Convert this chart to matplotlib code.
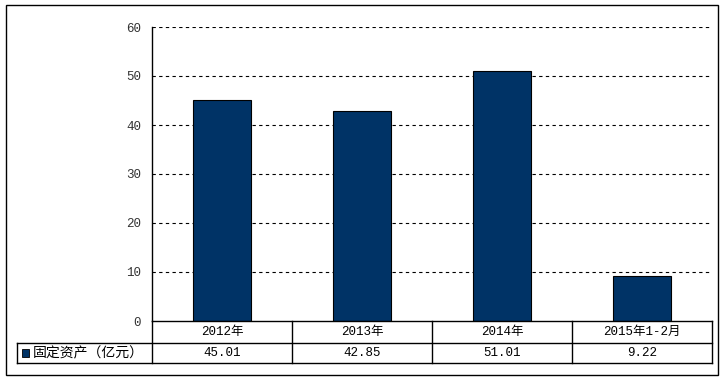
import matplotlib.pyplot as plt
from matplotlib.lines import Line2D
from matplotlib.patches import Rectangle

plt.rcParams['font.family'] = ['Liberation Mono', 'Noto Sans CJK SC', 'DejaVu Sans']

categories = ['2012年', '2013年', '2014年', '2015年1-2月']
values = [45.01, 42.85, 51.01, 9.22]
value_labels = ['45.01', '42.85', '51.01', '9.22']
series_name = '固定资产（亿元）'
yticks = [0, 10, 20, 30, 40, 50, 60]

W, H = 728, 381
bar_color = '#003366'

fig = plt.figure(figsize=(W / 100, H / 100), dpi=100)


def fx(px):
    return px / W


def fy(py):
    return 1 - py / H


def hline(y, x0, x1, lw=1.0):
    fig.add_artist(Line2D([fx(x0), fx(x1)], [fy(y), fy(y)], color='black', lw=lw,
                          transform=fig.transFigure))


def vline(x, y0, y1, lw=1.0):
    fig.add_artist(Line2D([fx(x), fx(x)], [fy(y0), fy(y1)], color='black', lw=lw,
                          transform=fig.transFigure))


# outer frame
fig.add_artist(Rectangle((fx(6), fy(375)), fx(718) - fx(6), fy(5) - fy(375),
                         fill=False, edgecolor='black', lw=1.0, transform=fig.transFigure))

# plot area
left, right, top, bottom = 152, 712, 27, 321
ax = fig.add_axes([fx(left), fy(bottom), fx(right) - fx(left), fy(top) - fy(bottom)])
x = range(len(categories))
ax.bar(x, values, width=0.41, color=bar_color, edgecolor='black', linewidth=0.8, zorder=3)
ax.set_xlim(-0.5, len(categories) - 0.5)
ax.set_ylim(0, 60)
ax.set_yticks(yticks)
ax.set_yticklabels([str(t) for t in yticks], fontsize=9, color='#333333')
ax.tick_params(axis='y', length=0, pad=8)
ax.set_xticks([])
for t in yticks[1:]:
    ax.axhline(t, color='black', lw=0.8, ls=(0, (3, 3)), zorder=1)
for s in ['top', 'right', 'bottom']:
    ax.spines[s].set_visible(False)
ax.spines['left'].set_linewidth(1.0)

# data table under the axis
col_w = (right - left) / len(categories)
r0, r1, r2 = 321, 343, 363
hline(r0, left, right)
hline(r1, 17, right)
hline(r2, 17, right)
vline(17, r1, r2)
for i in range(len(categories) + 1):
    vline(left + i * col_w, r0, r2)

for i, (cat, lab) in enumerate(zip(categories, value_labels)):
    cx = left + (i + 0.5) * col_w
    fig.text(fx(cx), fy((r0 + r1) / 2), cat, ha='center', va='center', fontsize=9)
    fig.text(fx(cx), fy((r1 + r2) / 2), lab, ha='center', va='center', fontsize=9)

fig.add_artist(Rectangle((fx(22), fy(357)), fx(29) - fx(22), fy(349) - fy(357),
                         facecolor=bar_color, edgecolor='black', lw=0.6,
                         transform=fig.transFigure))
fig.text(fx(33), fy((r1 + r2) / 2), series_name, ha='left', va='center', fontsize=10)

fig.savefig('out.png', dpi=100)
plt.close(fig)
